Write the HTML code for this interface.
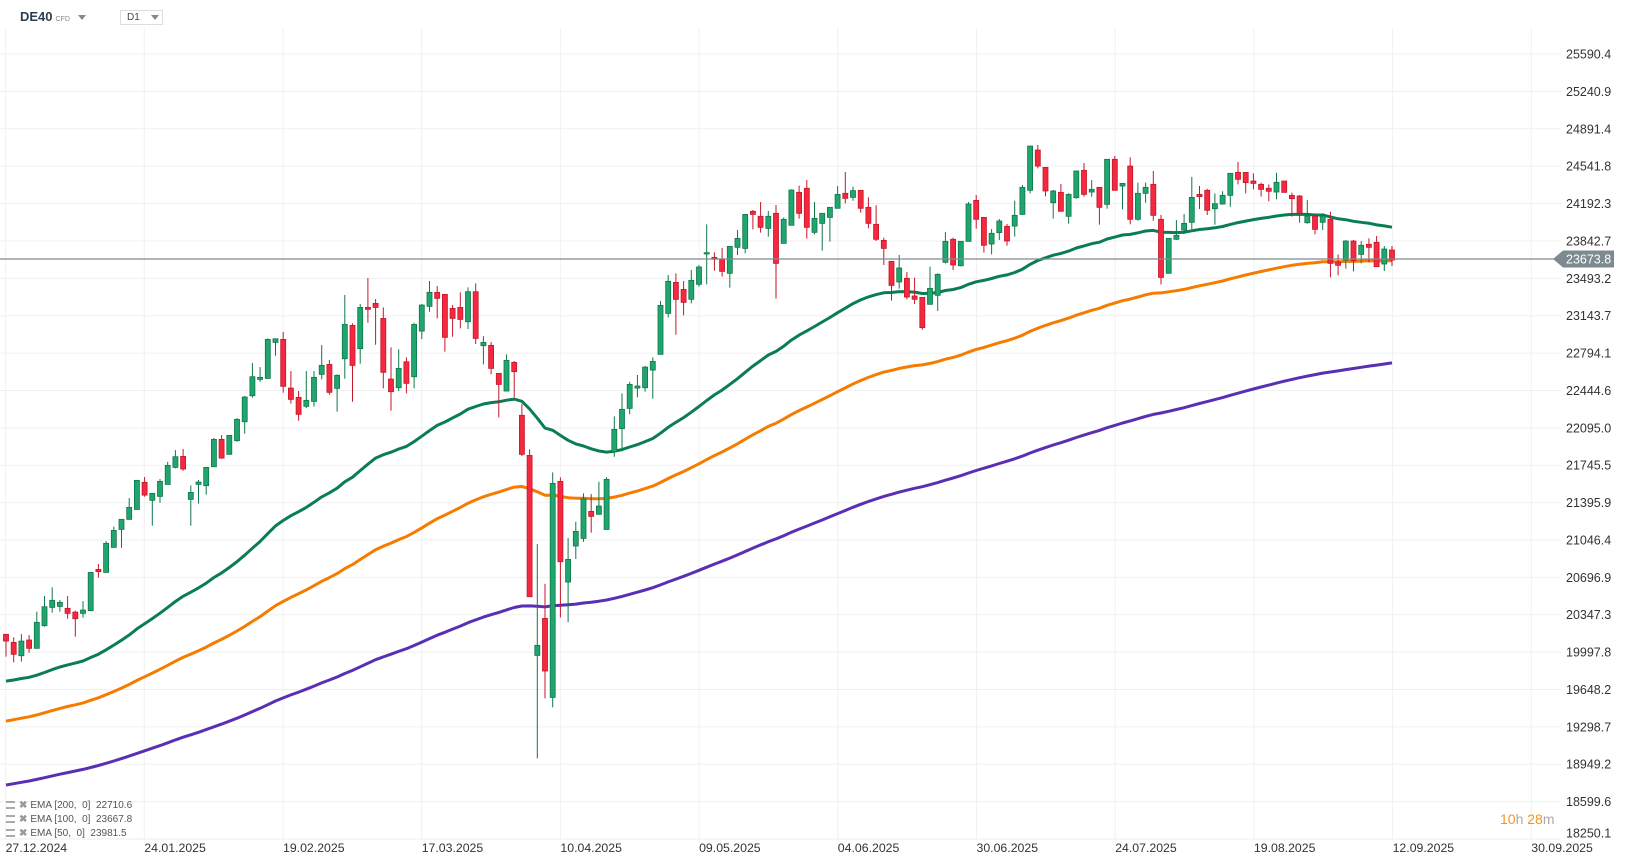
<!DOCTYPE html>
<html><head><meta charset="utf-8">
<style>
html,body{margin:0;padding:0;background:#fff;width:1626px;height:865px;overflow:hidden;font-family:"Liberation Sans",sans-serif;}
#wrap{position:relative;width:1626px;height:865px;}
svg{position:absolute;left:0;top:0;}
.hdr{position:absolute;top:9px;left:20px;font-size:13px;font-weight:bold;color:#2d3e50;}
.hdr small{font-size:7px;color:#888;font-weight:normal;margin-left:3px;}
.tri{position:absolute;top:15px;width:0;height:0;border-left:4px solid transparent;border-right:4px solid transparent;border-top:5px solid #888;}
.tf{position:absolute;left:120px;top:10px;width:43px;height:15px;border:1px solid #ddd;font-size:10px;color:#444;box-sizing:border-box;padding:1px 0 0 6px;}
.leg{position:absolute;left:6px;font-size:10px;color:#555;height:12px;line-height:12px;}
.leg i{display:inline-block;width:9px;height:8px;border-top:2px solid #aaa;border-bottom:2px solid #aaa;box-sizing:border-box;vertical-align:middle;margin-right:4px;position:relative}
.leg b{color:#999;font-weight:bold;margin-right:3px;}
.timer{position:absolute;left:1500px;top:811px;font-size:14px;}
</style></head><body>
<div id="wrap">
<svg id="chart" width="1626" height="865"></svg>
<div class="hdr">DE40<small>CFD</small></div>
<div class="tri" style="left:78px"></div>
<div class="tf">D1</div>
<div class="tri" style="left:151px"></div>
<div class="leg" style="top:800px"><i></i><b>✖</b>EMA [200,&nbsp; 0]&nbsp; 22710.6</div>
<div class="leg" style="top:814px"><i></i><b>✖</b>EMA [100,&nbsp; 0]&nbsp; 23667.8</div>
<div class="leg" style="top:828px"><i></i><b>✖</b>EMA [50,&nbsp; 0]&nbsp; 23981.5</div>
<div class="timer"><span style="color:#f7931e">10</span><span style="color:#aaa">h </span><span style="color:#f7931e">28</span><span style="color:#aaa">m</span></div>
</div>
<script>
const priceTicks=["18250.1","18599.6","18949.2","19298.7","19648.2","19997.8","20347.3","20696.9","21046.4","21395.9","21745.5","22095.0","22444.6","22794.1","23143.7","23493.2","23842.7","24192.3","24541.8","24891.4","25240.9","25590.4"];
const dateTicks=["27.12.2024","24.01.2025","19.02.2025","17.03.2025","10.04.2025","09.05.2025","04.06.2025","30.06.2025","24.07.2025","19.08.2025","12.09.2025","30.09.2025"];
const lastPrice=23673.8;
const opens=[20164,20089,19964,20111,20033,20245,20416,20425,20407,20372,20360,20385,20771,20743,20977,21145,21239,21332,21585,21417,21454,21566,21725,21828,21426,21566,21554,21731,21987,21847,21975,22152,22395,22548,22557,22894,22922,22467,22380,22296,22342,22595,22688,22464,22741,23053,22835,23221,23259,23118,22551,22470,22713,22573,23000,23231,23362,23343,23212,23221,23087,23368,22863,22866,22604,22439,22707,22212,21837,19967,20313,19574,21594,20653,20990,21061,21314,21286,21145,21872,22087,22277,22467,22470,22635,22782,23165,23455,23390,23297,23437,23721,23689,23671,23540,23783,23773,24120,24073,23960,24101,23820,23989,24297,24335,23923,24007,24063,24148,24288,24250,24316,24157,23998,23848,23652,23459,23493,23328,23315,23250,23334,23643,23858,23611,23839,24222,24063,23814,23920,23979,23982,24091,24316,24693,24531,24200,24297,24073,24247,24503,24300,24344,24185,24606,24356,24543,24045,24288,24372,24045,23540,23858,23945,24017,24278,24316,24144,24188,24269,24484,24484,24403,24372,24335,24300,24403,24269,24263,24013,24076,24017,24045,23646,23664,23842,23717,23811,23830,23627,23758];
const highs=[20164,20136,20167,20157,20376,20522,20603,20485,20522,20385,20475,20743,20821,21036,21170,21239,21438,21604,21635,21482,21616,21778,21887,21897,21557,21607,21725,22000,22028,22024,22186,22392,22701,22663,22931,22928,22991,22626,22439,22626,22626,22869,22729,22595,23337,23072,23253,23496,23299,23221,22847,22829,22754,23078,23253,23468,23421,23343,23243,23362,23408,23446,22953,22897,22604,22782,22720,22317,21894,21008,20637,21678,21632,21064,21217,21482,21476,21591,21635,22202,22417,22526,22589,22673,22754,23281,23524,23539,23468,23571,23618,23998,23736,23777,23792,23945,24091,24132,24207,24123,24179,24063,24325,24360,24412,24207,24101,24157,24356,24487,24350,24316,24250,24176,23873,23652,23711,23552,23499,23315,23602,23540,23926,23873,23839,24207,24272,24063,23954,24048,24001,24219,24366,24730,24740,24531,24319,24375,24288,24497,24571,24412,24344,24606,24637,24381,24624,24388,24388,24497,24085,23867,24038,24095,24441,24356,24331,24288,24307,24475,24581,24487,24475,24388,24372,24481,24403,24294,24272,24225,24085,24101,24116,23717,23851,23851,23842,23867,23889,23795,23795];
const lows=[19955,19902,19908,19992,20033,20235,20366,20376,20310,20142,20320,20385,20694,20743,20977,20974,21239,21332,21451,21180,21395,21566,21716,21694,21180,21386,21470,21731,21806,21847,21965,22040,22377,22526,22557,22769,22423,22321,22162,22280,22293,22548,22405,22246,22554,22339,22695,23078,22872,22464,22255,22439,22417,22464,22925,23181,23118,22807,22947,23025,23019,22879,22688,22595,22193,22439,22380,21831,20516,19004,19565,19481,20323,20276,20868,21030,21114,21286,21145,21825,21900,22221,22380,22433,22367,22782,23128,22966,23147,23259,23415,23437,23565,23509,23406,23711,23727,23951,23920,23883,23303,23820,23989,24051,23864,23904,23752,23836,24148,24194,24219,24107,23960,23842,23618,23284,23396,23297,23253,23013,23250,23188,23633,23571,23605,23839,23957,23733,23717,23851,23798,23883,24085,24288,24522,24260,24051,24120,24004,24238,24257,24257,23995,24144,24316,24138,23998,24032,24200,24032,23437,23540,23851,23908,23951,24141,24085,23995,24182,24163,24372,24288,24325,24257,24213,24232,24297,24070,24013,24004,23904,23945,23502,23521,23583,23558,23633,23643,23602,23561,23608];
const closes=[20101,19977,20101,20033,20276,20422,20482,20463,20360,20310,20391,20743,20750,21015,21136,21239,21351,21604,21466,21482,21594,21744,21825,21710,21491,21588,21725,21987,21812,22024,22174,22383,22573,22567,22922,22928,22483,22361,22221,22352,22567,22679,22427,22586,23062,22679,23221,23203,23221,22614,22433,22651,22511,23062,23243,23362,23306,22941,23118,23109,23368,22931,22894,22651,22501,22726,22620,21847,20516,20061,19821,21576,20843,20865,21127,21432,21267,21364,21613,22081,22268,22501,22486,22663,22716,23240,23465,23296,23268,23474,23599,23733,23671,23558,23792,23867,24091,24091,23970,24073,23633,24045,24319,24101,23970,24054,24101,24157,24278,24241,24313,24148,24007,23858,23773,23427,23590,23318,23297,23032,23399,23530,23839,23618,23839,24188,24045,23802,23914,24029,23842,24082,24344,24730,24543,24310,24310,24120,24278,24497,24278,24325,24157,24606,24316,24381,24045,24288,24344,24082,23502,23867,23895,24007,24250,24257,24129,24191,24269,24475,24419,24388,24381,24325,24307,24391,24297,24238,24101,24076,23951,24076,23633,23615,23842,23658,23802,23783,23602,23767,23664];
const emaPeriods=[50,100,200];
const emaSeeds=[19727,19353,18755];
const emaColors=["#0a7d52","#f57c00","#5a2fb3"];

const svg=document.getElementById('chart');
const NS='http://www.w3.org/2000/svg';
const PLOT_R=1561, AXIS_Y=839;
function yOf(p){return AXIS_Y-(p-18250.1)*37.38/349.55;}
function xOf(i){return 6+i*(1386/(closes.length-1));}
function mk(tag,attrs){const e=document.createElementNS(NS,tag);for(const k in attrs)e.setAttribute(k,attrs[k]);svg.appendChild(e);return e;}

priceTicks.forEach((t,idx)=>{
  const y=yOf(parseFloat(t));
  const g=mk('line',{x1:0,x2:PLOT_R,y1:y,y2:y,stroke:'#f0f0f0','stroke-width':1});
  
  
  const off=idx===0?-6:0;
  const tx=mk('text',{x:1566,y:y+4.5+off,'font-size':12.5,fill:'#333','font-family':'Liberation Sans, sans-serif'});
  tx.textContent=t;
  
  
});
dateTicks.forEach((d,j)=>{
  const x=5.6+j*138.7;
  const g=mk('line',{x1:x,x2:x,y1:28,y2:AXIS_Y,stroke:'#f0f0f0','stroke-width':1});
  
  
  const tx=mk('text',{x:x,y:852,'font-size':12.3,fill:'#333','font-family':'Liberation Sans, sans-serif'});
  tx.textContent=d;
  
  
});
const ax=mk('line',{x1:0,x2:PLOT_R,y1:AXIS_Y,y2:AXIS_Y,stroke:'#eee','stroke-width':1});



emaPeriods.forEach((n,k)=>{
  const a=2/(n+1);let e=emaSeeds[k];const pts=[];
  closes.forEach((c,i)=>{if(i>0)e=e+a*(c-e);pts.push(xOf(i).toFixed(1)+','+yOf(e).toFixed(1));});
  const pl=mk('polyline',{points:pts.join(' '),fill:'none',stroke:emaColors[k],'stroke-width':3,'stroke-linejoin':'round'});
  
  
});

closes.forEach((c,i)=>{
  const o=opens[i],h=highs[i],l=lows[i];
  const up=c>=o;const x=xOf(i);
  const fill=up?'#1fa56d':'#f4283e',stroke=up?'#10774a':'#c4172c';
  const w=mk('line',{x1:x,x2:x,y1:yOf(h),y2:yOf(l),stroke:stroke,'stroke-width':1});
  
  
  const yt=yOf(Math.max(o,c)),yb=yOf(Math.min(o,c));
  const b=mk('rect',{x:x-2.5,y:yt,width:5,height:Math.max(1,yb-yt),fill:fill,stroke:stroke,'stroke-width':0.8});
  
  
});

const ly=yOf(lastPrice);
const pl=mk('line',{x1:0,x2:1555,y1:ly,y2:ly,stroke:'#7d8b90','stroke-width':1.2});


const tag=mk('polygon',{points:`1553,${ly} 1563,${ly-8.5} 1614,${ly-8.5} 1614,${ly+8.5} 1563,${ly+8.5}`,fill:'#7d8b90'});


const tt=mk('text',{x:1566,y:ly+4.5,'font-size':12.5,fill:'#fff','font-family':'Liberation Sans, sans-serif'});
tt.textContent=lastPrice.toFixed(1);


</script>
</body></html>
